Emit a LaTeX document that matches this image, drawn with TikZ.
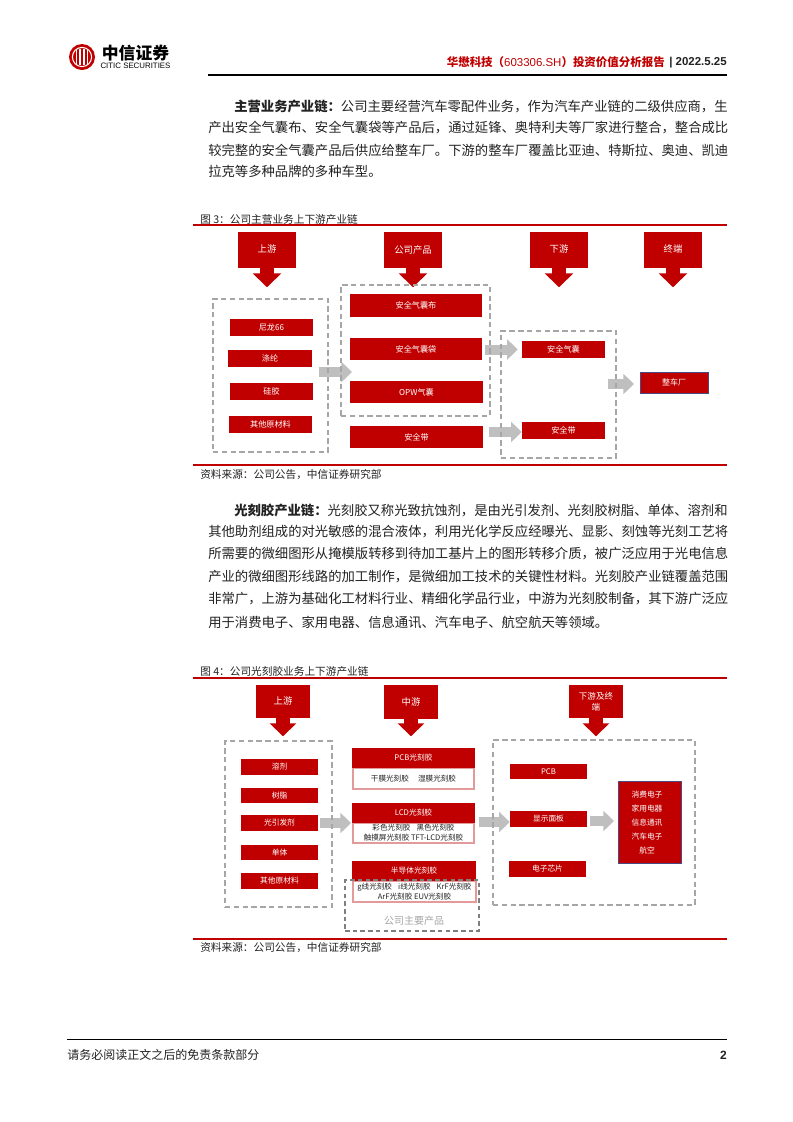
\documentclass[tikz,border=0pt]{standalone}
\usepackage{fontspec}
\setmainfont{Noto Sans CJK SC}
\newfontfamily\lib{Liberation Sans}
\usetikzlibrary{arrows.meta,calc}
\definecolor{cred}{HTML}{C00000}
\definecolor{cgray}{HTML}{BFBFBF}
\definecolor{cdash}{HTML}{A6A6A6}
\definecolor{cdashd}{HTML}{7F7F7F}
\definecolor{cpink}{HTML}{E39A9A}
\definecolor{cblue}{HTML}{4A4A80}
\definecolor{ctext}{HTML}{222222}
\newcommand{\fsz}[1]{\fontsize{#1}{#1}\selectfont}
\newcommand{\bx}[7]{%
  \pgfmathsetmacro\wpx{(#4-(#2))*0.75}%
  \pgfmathsetmacro\hpx{(#5-(#3))*0.75}%
  \node[#6,minimum width=\wpx pt,minimum height=\hpx pt] (#1) at ({(#2+#4)/2},{(#3+#5)/2}) {#7};}
\tikzset{
  x=0.75pt,y=-0.75pt,
  redbox/.style={fill=cred,draw=none,inner sep=0pt,text=white,align=center},
  headbox/.style={redbox,font=\fsz{7}},
  itembox/.style={redbox,font=\fsz{6.1}},
  itemboxb/.style={redbox,font=\fsz{5.8}},
  whitebox/.style={fill=white,draw=cpink,line width=0.8pt,inner sep=0pt,text=ctext,align=center,font=\fontsize{5.7}{7.4}\selectfont},
  endbox/.style={redbox,draw=cblue,line width=0.6pt,font=\fsz{6}},
  dashbox/.style={draw=cdash,line width=1.1pt,dash pattern=on 4pt off 2.6pt,inner sep=0pt},
  dashboxt/.style={draw=cdash,line width=0.85pt,dash pattern=on 4pt off 2.6pt,inner sep=0pt},
  dashboxd/.style={draw=cdashd,line width=1.1pt,dash pattern=on 3.4pt off 2.4pt,inner sep=0pt},
  grayarrow/.style={draw=cgray,line width=7.5pt,-{Triangle[length=8pt,width=15pt,fill=cgray]}},
  redarrow/.style={draw=cred,line width=11pt,-{Triangle[length=10.5pt,width=21pt,fill=cred]}},
  redarrowb/.style={draw=cred,line width=10pt,-{Triangle[length=9.7pt,width=19.5pt,fill=cred]}},
  para/.style={anchor=west,inner sep=0pt,text=ctext,font=\fsz{10}},
  capt/.style={anchor=west,inner sep=0pt,text=ctext,font=\fsz{8}},
  rule/.style={draw=cred,line width=0.8pt},
}
\begin{document}
\begin{tikzpicture}
\useasboundingbox (0,0) rectangle (793,1122);
\fill[white] (0,0) rectangle (793,1122);
% header
\coordinate (logoc) at (82,57);
\fill[cred] (logoc) circle (13);
\draw[white,line width=0.8pt] (logoc) circle (9.6);
\foreach \dx in {-5.5,-2,2,5.5} {\draw[white,line width=1pt] ($(logoc)+(\dx,-8)$) -- ($(logoc)+(\dx,8)$);}
\node[anchor=center,inner sep=0pt,font=\fsz{12.6}\bfseries,text=black] (logot) at (135.5,53.5) {中信证券};
\node[anchor=center,inner sep=0pt,font=\lib\fsz{5.9},text=black] (logos) at (135.5,66) {CITIC SECURITIES};
\node[anchor=east,inner sep=0pt,font=\fsz{8.6}\bfseries,text=cred] (ht) at (665,62.5) {华懋科技（{\lib\mdseries 603306.SH}）投资价值分析报告};
\node[anchor=east,inner sep=0pt,font=\lib\bfseries\fsz{8.6},text=ctext] (hd) at (727,62.5) {| 2022.5.25};
\coordinate (hl1) at (208,75); \coordinate (hl2) at (727,75);
\draw[black,line width=1.2pt] (hl1) -- (hl2);
% para 1
\node[para] (p11) at (234,106) {\textbf{主营业务产业链：}公司主要经营汽车零配件业务，作为汽车产业链的二级供应商，生};
\node[para] (p12) at (208,128) {产出安全气囊布、安全气囊袋等产品后，通过延锋、奥特利夫等厂家进行整合，整合成比};
\node[para] (p13) at (208,150) {较完整的安全气囊产品后供应给整车厂。下游的整车厂覆盖比亚迪、特斯拉、奥迪、凯迪};
\node[para] (p14) at (208,171) {拉克等多种品牌的多种车型。};
% figure 3
\node[capt] (c3) at (200,219) {图 3：公司主营业务上下游产业链};
\coordinate (r3a) at (193,225); \coordinate (r3b) at (727,225);
\coordinate (r3c) at (193,465); \coordinate (r3d) at (727,465);
\draw[rule] (r3a) -- (r3b);
\draw[rule] (r3c) -- (r3d);
\node[capt] (s3) at (200,475) {资料来源：公司公告，中信证券研究部};
\bx{a1}{238}{232}{296}{268}{headbox}{\raisebox{1.5pt}{上游}}
\bx{a2}{384}{232}{442}{268}{headbox}{公司产品}
\bx{a3}{530}{232}{588}{268}{headbox}{\raisebox{1.5pt}{下游}}
\bx{a4}{644}{232}{702}{268}{headbox}{\raisebox{1.5pt}{终端}}
\draw[redarrow] (a1.south) -- ++(0,19);
\draw[redarrow] (a2.south) -- ++(0,19);
\draw[redarrow] (a3.south) -- ++(0,19);
\draw[redarrow] (a4.south) -- ++(0,19);
\bx{b1}{230}{319}{313}{336}{itembox}{尼龙66}
\bx{b2}{228}{350}{312}{367}{itembox}{涤纶}
\bx{b3}{230}{383}{313}{400}{itembox}{硅胶}
\bx{b4}{229}{416}{312}{433}{itembox}{其他原材料}
\bx{m1}{350}{294}{482}{317}{itembox}{安全气囊布}
\bx{m2}{350}{338}{482}{360}{itembox}{安全气囊袋}
\bx{m3}{350}{381}{483}{403}{itembox}{OPW气囊}
\bx{m4}{350}{426}{483}{448}{itembox}{安全带}
\bx{d1}{522}{341}{605}{358}{itembox}{安全气囊}
\bx{d2}{522}{422}{605}{439}{itembox}{安全带}
\bx{e1}{640}{372}{708}{393}{endbox}{整车厂}
\coordinate (g1s) at (319,372); \coordinate (g1e) at (352,372);
\draw[grayarrow] (g1s) -- (g1e);
\coordinate (g2s) at (485,349.5);
\draw[grayarrow,shorten >=3pt] (g2s) -- (g2s -| d1.west);
\coordinate (g3s) at (489,432);
\draw[grayarrow] (g3s) -- (g3s -| d2.west);
\coordinate (g4s) at (608,384);
\coordinate (g4e) at (634,384);
\draw[grayarrow] (g4s) -- (g4e);
\bx{f1}{213}{299}{328}{452}{dashbox}{}
\bx{f2}{341}{285}{490}{416}{dashbox}{}
\bx{f3}{501}{331}{616}{458}{dashbox}{}
% para 2
\node[para] (p21) at (234,510) {\textbf{光刻胶产业链：}光刻胶又称光致抗蚀剂，是由光引发剂、光刻胶树脂、单体、溶剂和};
\node[para] (p22) at (208,532) {其他助剂组成的对光敏感的混合液体，利用光化学反应经曝光、显影、刻蚀等光刻工艺将};
\node[para] (p23) at (208,554) {所需要的微细图形从掩模版转移到待加工基片上的图形转移介质，被广泛应用于光电信息};
\node[para] (p24) at (208,577) {产业的微细图形线路的加工制作，是微细加工技术的关键性材料。光刻胶产业链覆盖范围};
\node[para] (p25) at (208,599) {非常广，上游为基础化工材料行业、精细化学品行业，中游为光刻胶制备，其下游广泛应};
\node[para] (p26) at (208,622) {用于消费电子、家用电器、信息通讯、汽车电子、航空航天等领域。};
% figure 4
\node[capt] (c4) at (200,671) {图 4：公司光刻胶业务上下游产业链};
\coordinate (r4a) at (193,678); \coordinate (r4b) at (727,678);
\coordinate (r4c) at (193,939); \coordinate (r4d) at (727,939);
\draw[rule] (r4a) -- (r4b);
\draw[rule] (r4c) -- (r4d);
\node[capt] (s4) at (200,948) {资料来源：公司公告，中信证券研究部};
\bx{h1}{256}{685}{310}{718}{headbox}{\raisebox{1pt}{上游}}
\bx{h2}{384}{685}{438}{719}{headbox}{中游}
\bx{h3}{569}{685}{623}{718}{redbox,font=\fontsize{6.4}{8.2}\selectfont}{下游及终\\端}
\draw[redarrowb] (h1.south) -- ++(0,18);
\draw[redarrowb] (h2.south) -- ++(0,17);
\draw[redarrowb] (h3.south) -- ++(0,18);
\bx{u1}{241}{759}{318}{775}{itemboxb}{溶剂}
\bx{u2}{241}{788}{318}{803}{itemboxb}{树脂}
\bx{u3}{241}{815}{318}{831}{itemboxb}{光引发剂}
\bx{u4}{241}{845}{318}{860}{itemboxb}{单体}
\bx{u5}{241}{873}{318}{889}{itemboxb}{其他原材料}
\bx{w1}{353}{768}{474}{789}{whitebox}{干膜光刻胶\hspace{1.2em}湿膜光刻胶}
\bx{w2}{353}{823}{474}{843}{whitebox}{彩色光刻胶\hspace{0.8em}黑色光刻胶\\触摸屏光刻胶 TFT-LCD光刻胶}
\bx{w3}{353}{881}{476}{902}{whitebox}{g线光刻胶\hspace{0.8em}i线光刻胶\hspace{0.8em}KrF光刻胶\\ArF光刻胶 EUV光刻胶}
\bx{k1}{352}{748}{475}{768}{itemboxb}{PCB光刻胶}
\bx{k2}{352}{803}{475}{823}{itemboxb}{LCD光刻胶}
\bx{k3}{352}{861}{476}{881}{itemboxb}{半导体光刻胶}
\bx{v1}{510}{764}{587}{779}{itemboxb}{PCB}
\bx{v2}{510}{811}{587}{827}{itemboxb}{显示面板}
\bx{v3}{509}{861}{586}{877}{itemboxb}{电子芯片}
\bx{t1}{618}{781}{681}{863}{endbox}{}
\node[inner sep=0pt,text=white,font=\fsz{5.8}] (t1a) at (647,795) {消费电子};
\node[inner sep=0pt,text=white,font=\fsz{5.8}] (t1b) at (647,809) {家用电器};
\node[inner sep=0pt,text=white,font=\fsz{5.8}] (t1c) at (647,823) {信息通讯};
\node[inner sep=0pt,text=white,font=\fsz{5.8}] (t1d) at (647,837) {汽车电子};
\node[inner sep=0pt,text=white,font=\fsz{5.8}] (t1e) at (647,851) {航空};
\coordinate (g5s) at (320,823); \coordinate (g5e) at (351,823);
\draw[grayarrow] (g5s) -- (g5e);
\coordinate (g6s) at (479,822);
\draw[grayarrow] (g6s) -- (g6s -| v2.west);
\coordinate (g7s) at (590,821);
\coordinate (g7e) at (614,821);
\draw[grayarrow] (g7s) -- (g7e);
\bx{f4}{225}{741}{332}{907}{dashboxt}{}
\bx{f5}{493}{740}{695}{905}{dashboxt}{}
\bx{f6}{345}{880}{479}{931}{dashboxd}{}
\node[inner sep=0pt,text=cdash,font=\fsz{7.5}] (f6t) at (414,921) {公司主要产品};
% footer
\coordinate (fl1) at (67,1039); \coordinate (fl2) at (727,1039);
\draw[black,line width=0.6pt] (fl1) -- (fl2);
\node[anchor=west,inner sep=0pt,text=ctext,font=\fsz{9}] (ft) at (67,1055) {请务必阅读正文之后的免责条款部分};
\node[anchor=east,inner sep=0pt,text=ctext,font=\lib\bfseries\fsz{9}] (pg) at (727,1055) {2};
\end{tikzpicture}
\end{document}
